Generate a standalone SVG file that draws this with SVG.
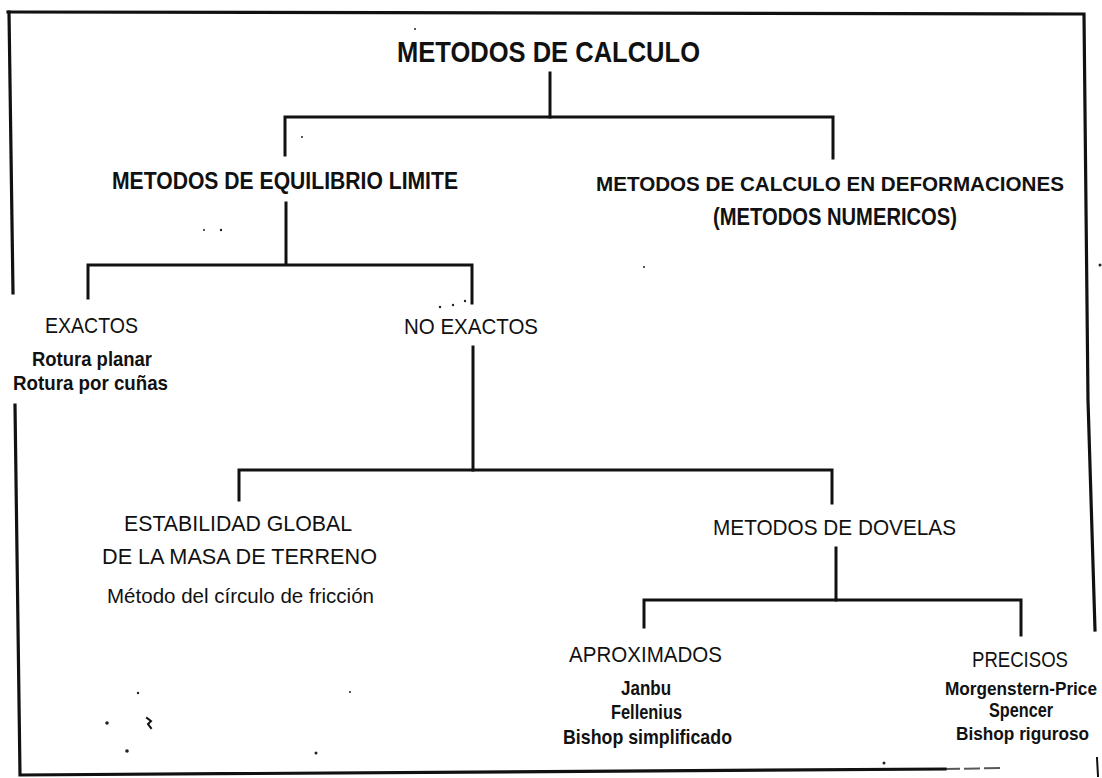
<svg xmlns="http://www.w3.org/2000/svg" width="1102" height="778" viewBox="0 0 1102 778">
<style>
  .bg{fill:#ffffff}
  .ln{fill:none;stroke:#111;stroke-width:3;stroke-linecap:square;stroke-linejoin:miter}
  .fr{fill:none;stroke:#111;stroke-width:3.2;stroke-linecap:square}
  .t{font-family:"Liberation Sans","DejaVu Sans",sans-serif;fill:#111}
  .h1{font-size:30px;font-weight:bold}
  .h2{font-size:23px;font-weight:bold}
  .h3{font-size:22px}
  .it{font-size:21px;font-weight:bold}
  .rg{font-size:20px}
  .sp{fill:#222}
</style>
<rect class="bg" x="0" y="0" width="1102" height="778"/>

<g id="frame">
  <path class="fr" d="M8,12 L1084,14 L1088,400 L1095,630"/>
  <path class="fr" d="M9,12 L13,293"/>
  <path class="fr" d="M15,405 L20,775 L945,769"/>
  <path class="ln" style="stroke-width:2;stroke-dasharray:14 6;opacity:0.7" d="M945,769 L1000,768"/>
  <path class="ln" style="stroke-width:2" d="M1097,758 L1098,776"/>
</g>

<g id="connectors">
  <path class="ln" d="M550,73 L550,117"/>
  <path class="ln" d="M285,155 L285,117 L833,117 L833,158"/>
  <path class="ln" d="M286,203 L286,264"/>
  <path class="ln" d="M88,298 L88,265 L472,265 L472,303"/>
  <path class="ln" d="M473,347 L473,470"/>
  <path class="ln" d="M239,500 L239,470 L832,470 L832,503"/>
  <path class="ln" d="M836,548 L836,600"/>
  <path class="ln" d="M644,627 L644,600 L1021,600 L1021,635"/>
</g>

<g id="node-root">
  <text class="t h1" x="397" y="62" textLength="303" lengthAdjust="spacingAndGlyphs">METODOS DE CALCULO</text>
</g>
<g id="node-equilibrio">
  <text class="t h2" x="112" y="189" textLength="346" lengthAdjust="spacingAndGlyphs">METODOS DE EQUILIBRIO LIMITE</text>
</g>
<g id="node-deformaciones">
  <text class="t h2" x="596" y="191" style="font-size:20px" textLength="468" lengthAdjust="spacingAndGlyphs">METODOS DE CALCULO EN DEFORMACIONES</text>
  <text class="t h2" x="713" y="225" textLength="244" lengthAdjust="spacingAndGlyphs">(METODOS NUMERICOS)</text>
</g>
<g id="node-exactos">
  <text class="t h3" x="45" y="333" textLength="93" lengthAdjust="spacingAndGlyphs">EXACTOS</text>
  <text class="t it" x="32" y="366" textLength="120" lengthAdjust="spacingAndGlyphs">Rotura planar</text>
  <text class="t it" x="13" y="390" textLength="155" lengthAdjust="spacingAndGlyphs">Rotura por cuñas</text>
</g>
<g id="node-no-exactos">
  <text class="t h3" x="404" y="334" textLength="134" lengthAdjust="spacingAndGlyphs">NO EXACTOS</text>
</g>
<g id="node-global">
  <text class="t h3" x="124" y="531" textLength="228" lengthAdjust="spacingAndGlyphs">ESTABILIDAD GLOBAL</text>
  <text class="t h3" x="102" y="564" textLength="275" lengthAdjust="spacingAndGlyphs">DE LA MASA DE TERRENO</text>
  <text class="t rg" x="107" y="603" textLength="267" lengthAdjust="spacingAndGlyphs">Método del círculo de fricción</text>
</g>
<g id="node-dovelas">
  <text class="t h3" x="713" y="535" textLength="243" lengthAdjust="spacingAndGlyphs">METODOS DE DOVELAS</text>
</g>
<g id="node-aproximados">
  <text class="t h3" x="569" y="662" textLength="153" lengthAdjust="spacingAndGlyphs">APROXIMADOS</text>
  <text class="t it" x="621" y="695" textLength="50" lengthAdjust="spacingAndGlyphs">Janbu</text>
  <text class="t it" x="611" y="719" textLength="71" lengthAdjust="spacingAndGlyphs">Fellenius</text>
  <text class="t it" x="563" y="744" textLength="169" lengthAdjust="spacingAndGlyphs">Bishop simplificado</text>
</g>
<g id="node-precisos">
  <text class="t h3" x="972" y="667" textLength="96" lengthAdjust="spacingAndGlyphs">PRECISOS</text>
  <text class="t it" x="945" y="695" style="font-size:18px" textLength="152" lengthAdjust="spacingAndGlyphs">Morgenstern-Price</text>
  <text class="t it" x="989" y="717" textLength="64" lengthAdjust="spacingAndGlyphs">Spencer</text>
  <text class="t it" x="956" y="740" style="font-size:18px" textLength="133" lengthAdjust="spacingAndGlyphs">Bishop riguroso</text>
</g>

<g id="specks">
  <circle class="sp" cx="415" cy="29" r="1"/>
  <circle class="sp" cx="302" cy="137" r="1"/>
  <circle class="sp" cx="204" cy="230" r="1"/>
  <circle class="sp" cx="221" cy="230" r="1.2"/>
  <circle class="sp" cx="644" cy="267" r="1"/>
  <circle class="sp" cx="1100" cy="265" r="1.5"/>
  <circle class="sp" cx="440" cy="307" r="1.2"/>
  <circle class="sp" cx="453" cy="305" r="1.2"/>
  <circle class="sp" cx="465" cy="301" r="1.2"/>
  <circle class="sp" cx="107" cy="723" r="1.8"/>
  <circle class="sp" cx="138" cy="693" r="1.2"/>
  <path class="ln" style="stroke-width:2" d="M147,718 L151,721 L148,724 L151,728"/>
  <circle class="sp" cx="127" cy="751" r="1.8"/>
  <circle class="sp" cx="316" cy="753" r="1.5"/>
  <circle class="sp" cx="350" cy="692" r="1"/>
  <circle class="sp" cx="884" cy="763" r="1.5"/>
</g>
</svg>
